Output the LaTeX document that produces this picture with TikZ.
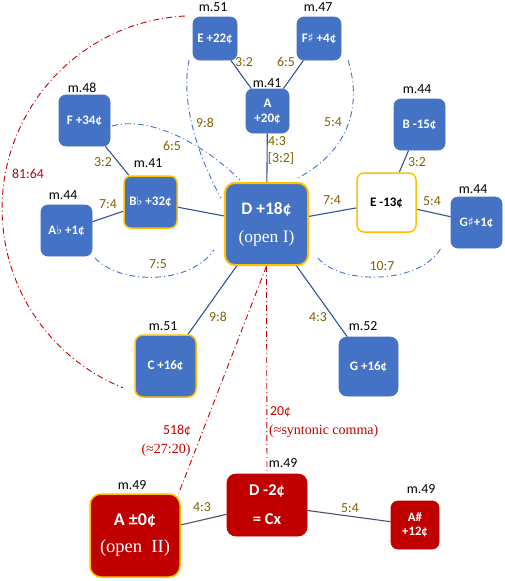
\documentclass[tikz,border=0pt]{standalone}
\usepackage{fontspec}
\setmainfont{Carlito}
\newfontfamily\serifx{Liberation Serif}
\newfontfamily\symx{DejaVu Sans}
\usetikzlibrary{calc,backgrounds}
\definecolor{nblue}{HTML}{4472C4}
\definecolor{nred}{HTML}{C00000}
\definecolor{ngold}{HTML}{FFC000}
\definecolor{lbl}{HTML}{7F6000}
\definecolor{edge}{HTML}{2F5597}
\definecolor{edgeg}{HTML}{44546A}
\newcommand{\shp}{{\symx\mdseries\fontsize{12.5}{12}\selectfont ♯}}
\newcommand{\flt}{{\symx\mdseries\fontsize{12.5}{12}\selectfont ♭}}
\tikzset{
 box/.style={draw=nblue, fill=nblue, rounded corners=7pt, text=white, font=\bfseries\fontsize{13}{15}\selectfont, align=center, inner sep=0pt, line width=0.8pt},
 goldbox/.style={box, draw=ngold, line width=1.5pt},
 redbox/.style={box, fill=nred, draw=nred},
 mlab/.style={font=\fontsize{13.8}{15}\selectfont, inner sep=0pt},
 rlab/.style={text=lbl, font=\fontsize{13.8}{15}\selectfont, inner sep=0pt},
 redlab/.style={text=nred, font=\fontsize{13.8}{15}\selectfont, inner sep=0pt},
 redser/.style={text=nred, font=\serifx\fontsize{14}{15}\selectfont, inner sep=0pt},
 conn/.style={draw=edge, line width=1.1pt},
 ddot/.style={nblue, line width=0.9pt, dash pattern=on 6pt off 3pt on 1pt off 3pt},
 rdot/.style={nred, line width=0.9pt, dash pattern=on 6pt off 3pt on 1pt off 3pt},
}
\begin{document}
\begin{tikzpicture}[x=1pt,y=-1pt]
\useasboundingbox (0,0) rectangle (504,581);

% boxes
\node[box, minimum width=44pt, minimum height=43pt] (E22) at (215,38.5) {E +22¢};
\node[box, minimum width=44pt, minimum height=43pt] (Fs) at (319,38.5) {F\shp{} +4¢};
\node[box, minimum width=43pt, minimum height=44pt] (A20) at (267.5,111) {A\\+20¢};
\node[box, minimum width=51pt, minimum height=51pt] (F34) at (84.5,120.5) {F +34¢};
\node[goldbox, minimum width=53pt, minimum height=52pt] (Bb) at (150.5,202) {B\flt{} +32¢};
\node[box, minimum width=51pt, minimum height=51pt] (Ab) at (66.5,230.5) {A\flt{} +1¢};
\node[goldbox, line width=2pt, rounded corners=10pt, minimum width=83pt, minimum height=82pt, font=\bfseries\fontsize{17.5}{28}\selectfont] (D18) at (266.5,224) {D +18¢\\{\serifx\mdseries\fontsize{17.5}{28}\selectfont (open I)}};
\node[box, minimum width=51pt, minimum height=51pt] (B15) at (419.5,124.5) {B -15¢};
\node[goldbox, fill=white, text=black, minimum width=59pt, minimum height=59pt] (E13) at (386.5,202.5) {E -13¢};
\node[box, minimum width=51pt, minimum height=51pt] (Gs) at (476.5,222.5) {G\shp+1¢};
\node[goldbox, rounded corners=8pt, minimum width=61pt, minimum height=62pt] (C16) at (165.5,366) {C +16¢};
\node[box, rounded corners=8pt, minimum width=59pt, minimum height=59pt] (G16) at (368.5,366.5) {G +16¢};
\node[redbox, draw=ngold, line width=1.5pt, rounded corners=11pt, minimum width=90pt, minimum height=83pt, font=\bfseries\fontsize{18}{27}\selectfont] (A0) at (135,535.5) {A ±0¢\\{\serifx\mdseries\fontsize{18.5}{27}\selectfont (open~~II)}};
\node[redbox, rounded corners=9pt, minimum width=80pt, minimum height=62pt, font=\bfseries\fontsize{16.5}{29}\selectfont] (D2) at (267,505) {D -2¢\\= Cx};
\node[redbox, minimum width=48pt, minimum height=48pt, font=\bfseries\fontsize{12.8}{14.5}\selectfont] (As) at (415,525) {A\#\\+12¢};

% measure labels
\node[mlab] (mE22) at (213,7) {m.51};
\node[mlab] (mFs) at (318,7) {m.47};
\node[mlab] (mA20) at (267,83) {m.41};
\node[mlab] (mF34) at (82,88) {m.48};
\node[mlab] (mBb) at (148,163) {m.41};
\node[mlab] (mAb) at (63,195) {m.44};
\node[mlab] (mB15) at (417,89) {m.44};
\node[mlab] (mGs) at (473,189) {m.44};
\node[mlab] (mC16) at (163,326) {m.51};
\node[mlab] (mG16) at (363,326) {m.52};
\node[mlab] (mA0) at (132,485) {m.49};
\node[mlab] (mD2) at (283,463) {m.49};
\node[mlab] (mAs) at (421,489) {m.49};

% ratio labels
\node[rlab] (r1) at (244,62) {3:2};
\node[rlab] (r2) at (286,62) {6:5};
\node[rlab] (r3) at (277,141) {4:3};
\node[rlab] (r4) at (281,158) {[3:2]};
\node[rlab] (r5) at (205,123) {9:8};
\node[rlab] (r6) at (333,122) {5:4};
\node[rlab] (r7) at (172,146) {6:5};
\node[rlab] (r8) at (103,162) {3:2};
\node[rlab] (r9) at (108,204) {7:4};
\node[rlab] (r10) at (158,264) {7:5};
\node[rlab] (r11) at (332,200) {7:4};
\node[rlab] (r12) at (432,201) {5:4};
\node[rlab] (r13) at (417,162) {3:2};
\node[rlab] (r14) at (382,266) {10:7};
\node[rlab] (r15) at (218,317) {9:8};
\node[rlab] (r16) at (318,317) {4:3};
\node[rlab] (r17) at (202,507) {4:3};
\node[rlab] (r18) at (350,508) {5:4};
\node[redlab] (r19) at (28,174) {81:64};
\node[redlab] (r20) at (177,431) {518¢};
\node[redser] (r21) at (166,450) {(≈27:20)};
\node[redlab, anchor=west] (r22) at (270,412) {20¢};
\node[redser, anchor=west] (r23) at (269,431) {(≈syntonic comma)};

% arc end points
\coordinate (k1) at (189,60);
\coordinate (k2) at (221,198);
\coordinate (k3) at (348,60);
\coordinate (k4) at (298,178);
\coordinate (k5) at (112,126);
\coordinate (k6) at (240,180);
\coordinate (k7) at (95,258);
\coordinate (k8) at (214,250);
\coordinate (k9) at (318,258);
\coordinate (k10) at (441,248);
\coordinate (k11) at (185,16);

\begin{scope}[on background layer]
\draw[conn] (E22) -- (A20);
\draw[conn] (Fs) -- (A20);
\draw[conn] (A20) -- (D18);
\draw[conn] (F34) -- (Bb);
\draw[conn] (Ab) -- (Bb);
\draw[conn] (Bb) -- (D18);
\draw[conn] (D18) -- (E13);
\draw[conn] (E13) -- (Gs);
\draw[conn] (B15) -- (E13);
\draw[conn] (D18) -- (C16);
\draw[conn] (D18) -- (G16);
\draw[conn, draw=edgeg] (A0) -- (D2);
\draw[conn, draw=edgeg] (D2) -- (As);

\draw[ddot] (k1) .. controls (180,105) and (200,160) .. (k2);
\draw[ddot] (k3) .. controls (362,105) and (350,150) .. (k4);
\draw[ddot] (k5) .. controls (150,115) and (205,145) .. (k6);
\draw[ddot] (k7) .. controls (120,285) and (190,285) .. (k8);
\draw[ddot] (k9) .. controls (340,285) and (420,285) .. (k10);

\draw[rdot] (k11) arc[start angle=93, end angle=248, radius=193pt];
\draw[rdot] (D18.south) -- ($(A0.north east)+(-2,0)$);
\draw[rdot] (D18.south) -- (D2.north);
\end{scope}
\end{tikzpicture}
\end{document}
